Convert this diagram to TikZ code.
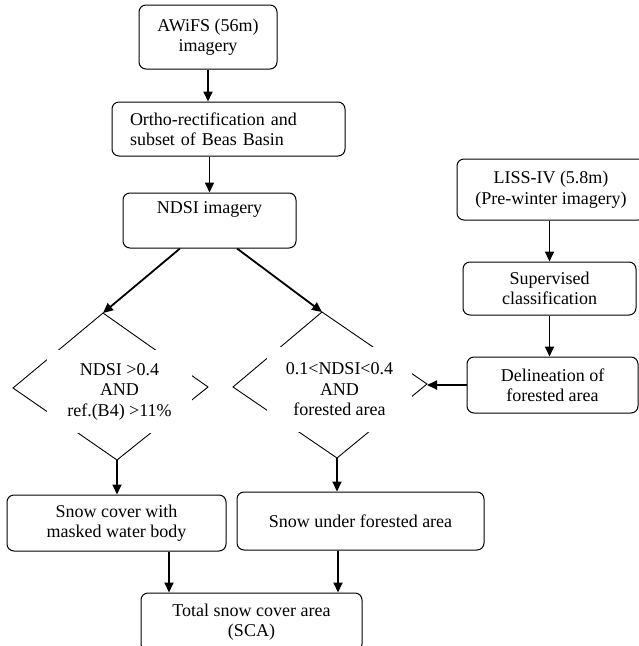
\documentclass[tikz,border=0pt]{standalone}
\usepackage{fontspec}
\setmainfont{Liberation Serif}
\usetikzlibrary{arrows.meta}
\begin{document}
\begin{tikzpicture}[x=1pt,y=-1pt,
  txtfont/.style={font=\fontsize{18}{20.5}\selectfont},
  box/.style={draw=black, line width=1pt, rounded corners=7pt, align=center, inner sep=0pt, txtfont},
  arr/.style={line width=1.8pt, -{Triangle[length=10pt,width=9pt]}},
  dia/.style={line width=0.9pt},
  diatext/.style={fill=white, inner sep=0pt, align=center, txtfont}]
\useasboundingbox (0,0) rectangle (638,646);

% left/main column boxes
\node[box, minimum width=138pt, minimum height=64pt] (awifs) at (208,37) {AWiFS (56m)\\imagery};
\node[box, text width=197pt, inner xsep=18pt, minimum height=54pt, align=left] (ortho) at (228.5,129) {Ortho-rectification and\\subset of Beas Basin};
\node[box, minimum width=173pt, minimum height=55pt] (ndsi) at (209.5,220.5) {NDSI imagery\\\strut};

% right column
\node[box, minimum width=188pt, minimum height=61pt] (liss) at (551,189.5) {LISS-IV (5.8m)\\(Pre-winter imagery)};
\node[box, minimum width=173pt, minimum height=53pt] (sup) at (549.5,288.5) {Supervised\\classification};
\node[box, minimum width=171pt, minimum height=56pt] (delin) at (552.5,385) {Delineation of\\forested area};

% diamond 1
\coordinate (d1t) at (103,313);
\coordinate (d1r) at (208,387);
\coordinate (d1b) at (117,460);
\coordinate (d1l) at (13,388);
\draw[dia] (d1t) -- (d1r) -- (d1b) -- (d1l) -- cycle;
\node[diatext, minimum width=145pt, minimum height=83pt] (d1) at (119.5,391.5) {NDSI >0.4\\AND\\ref.(B4) >11\%};

% diamond 2
\coordinate (d2t) at (322,312);
\coordinate (d2r) at (427,384);
\coordinate (d2b) at (337,458);
\coordinate (d2l) at (233,387);
\draw[dia] (d2t) -- (d2r) -- (d2b) -- (d2l) -- cycle;
\node[diatext, minimum width=145pt, minimum height=85pt] (d2) at (339.5,389.5) {0.1<NDSI<0.4\\AND\\forested area};

% bottom boxes
\node[box, minimum width=219pt, minimum height=56pt] (snowc) at (116.5,523) {Snow cover with\\masked water body};
\node[box, minimum width=247pt, minimum height=58pt] (snowf) at (360.5,521) {Snow under forested area};
\node[box, minimum width=221pt, minimum height=58pt] (total) at (251.5,622) {Total snow cover area\\(SCA)};

% connectors
\draw[arr] (awifs.south) -- (awifs.south |- ortho.north);
\draw[arr] (ortho.south -| ndsi.north) -- (ndsi.north);
\coordinate (n1) at ([xshift=-29.5pt]ndsi.south);
\coordinate (n2) at ([xshift=27.5pt]ndsi.south);
\draw[arr] (n1) -- (d1t);
\draw[arr] (n2) -- (d2t);
\draw[arr] (sup.north |- liss.south) -- (sup.north);
\draw[arr] (sup.south) -- (sup.south |- delin.north);
\draw[arr] (delin.west) -- (delin.west -| d2r);
\draw[arr] (d1b) -- (d1b |- snowc.north);
\draw[arr] (d2b) -- (d2b |- snowf.north);
\coordinate (s1) at ([xshift=52.5pt]snowc.south);
\coordinate (s2) at ([xshift=-22.5pt]snowf.south);
\draw[arr] (s1) -- (s1 |- total.north);
\draw[arr] (s2) -- (s2 |- total.north);
\end{tikzpicture}
\end{document}
